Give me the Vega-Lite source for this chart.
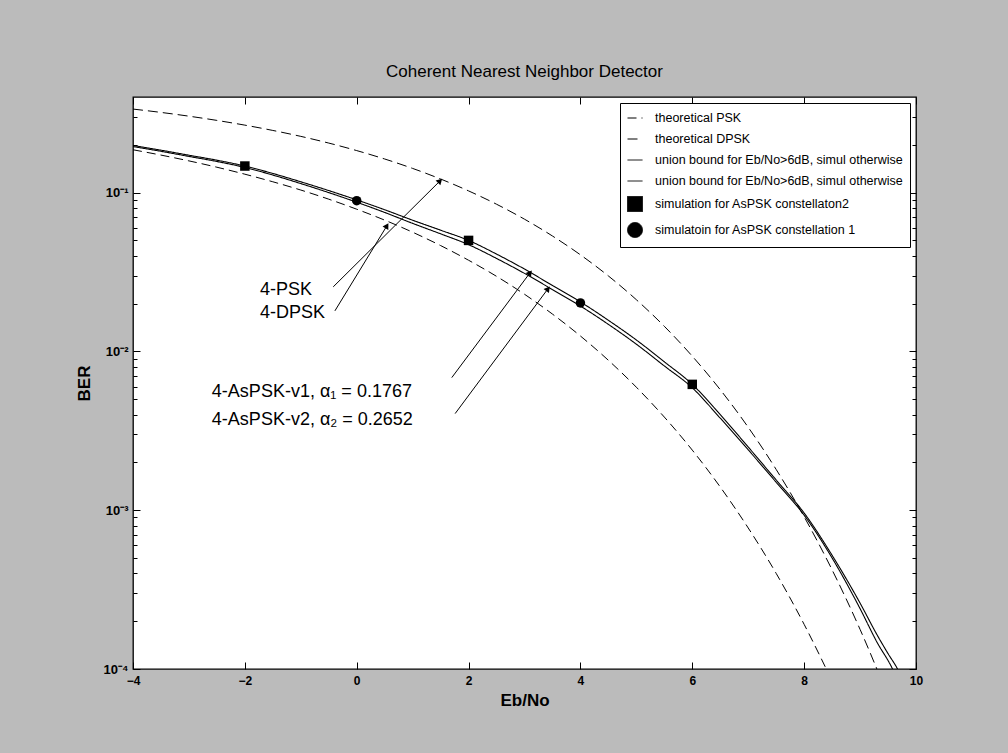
{
  "$schema": "https://vega.github.io/schema/vega-lite/v6.json",
  "width": 783,
  "height": 572,
  "autosize": {"type": "none"},
  "padding": {"left": 133, "top": 97, "right": 92, "bottom": 84},
  "background": "#bbbbbb",
  "title": {"text": "Coherent Nearest Neighbor Detector", "font": "Liberation Sans", "fontSize": 17, "fontWeight": "normal", "color": "black", "offset": 16},
  "config": {
    "view": {"fill": "white", "stroke": "black", "strokeWidth": 1.3},
    "legend": {"orient": "top-right", "offset": 6, "strokeColor": "black", "fillColor": "white", "padding": 7, "labelFont": "Liberation Sans", "labelFontSize": 12.5, "labelColor": "black", "labelLimit": 320, "labelOffset": 12, "symbolStrokeColor": "black", "symbolFillColor": "black", "symbolStrokeWidth": 1, "symbolSize": 225, "rowPadding": 6, "titleFontSize": 0}
  },
  "datasets": {
    "curves": [
      {"series": "psk", "ebno": -4, "ber": 0.1861},
      {"series": "psk", "ebno": -3.5, "ber": 0.1723},
      {"series": "psk", "ebno": -3, "ber": 0.1584},
      {"series": "psk", "ebno": -2.5, "ber": 0.1445},
      {"series": "psk", "ebno": -2, "ber": 0.1306},
      {"series": "psk", "ebno": -1.5, "ber": 0.117},
      {"series": "psk", "ebno": -1, "ber": 0.1038},
      {"series": "psk", "ebno": -0.5, "ber": 0.0909},
      {"series": "psk", "ebno": 0, "ber": 0.0786},
      {"series": "psk", "ebno": 0.5, "ber": 0.0671},
      {"series": "psk", "ebno": 1, "ber": 0.0563},
      {"series": "psk", "ebno": 1.5, "ber": 0.0464},
      {"series": "psk", "ebno": 2, "ber": 0.0375},
      {"series": "psk", "ebno": 2.5, "ber": 0.0297},
      {"series": "psk", "ebno": 3, "ber": 0.0229},
      {"series": "psk", "ebno": 3.5, "ber": 0.01718},
      {"series": "psk", "ebno": 4, "ber": 0.0125},
      {"series": "psk", "ebno": 4.5, "ber": 0.00879},
      {"series": "psk", "ebno": 5, "ber": 0.00595},
      {"series": "psk", "ebno": 5.5, "ber": 0.00386},
      {"series": "psk", "ebno": 6, "ber": 0.00239},
      {"series": "psk", "ebno": 6.5, "ber": 0.0014},
      {"series": "psk", "ebno": 7, "ber": 0.000773},
      {"series": "psk", "ebno": 7.5, "ber": 0.0004},
      {"series": "psk", "ebno": 8, "ber": 0.000191},
      {"series": "psk", "ebno": 8.5, "ber": 0.0000839},
      {"series": "dpsk", "ebno": -4, "ber": 0.3358},
      {"series": "dpsk", "ebno": -3.5, "ber": 0.3199},
      {"series": "dpsk", "ebno": -3, "ber": 0.3029},
      {"series": "dpsk", "ebno": -2.5, "ber": 0.2849},
      {"series": "dpsk", "ebno": -2, "ber": 0.266},
      {"series": "dpsk", "ebno": -1.5, "ber": 0.2463},
      {"series": "dpsk", "ebno": -1, "ber": 0.226},
      {"series": "dpsk", "ebno": -0.5, "ber": 0.2051},
      {"series": "dpsk", "ebno": 0, "ber": 0.1839},
      {"series": "dpsk", "ebno": 0.5, "ber": 0.1628},
      {"series": "dpsk", "ebno": 1, "ber": 0.142},
      {"series": "dpsk", "ebno": 1.5, "ber": 0.1218},
      {"series": "dpsk", "ebno": 2, "ber": 0.1025},
      {"series": "dpsk", "ebno": 2.5, "ber": 0.0845},
      {"series": "dpsk", "ebno": 3, "ber": 0.068},
      {"series": "dpsk", "ebno": 3.5, "ber": 0.0533},
      {"series": "dpsk", "ebno": 4, "ber": 0.04057},
      {"series": "dpsk", "ebno": 4.5, "ber": 0.02986},
      {"series": "dpsk", "ebno": 5, "ber": 0.02116},
      {"series": "dpsk", "ebno": 5.5, "ber": 0.01439},
      {"series": "dpsk", "ebno": 6, "ber": 0.00933},
      {"series": "dpsk", "ebno": 6.5, "ber": 0.00574},
      {"series": "dpsk", "ebno": 7, "ber": 0.003328},
      {"series": "dpsk", "ebno": 7.5, "ber": 0.001805},
      {"series": "dpsk", "ebno": 8, "ber": 0.000909},
      {"series": "dpsk", "ebno": 8.5, "ber": 0.000421},
      {"series": "dpsk", "ebno": 9, "ber": 0.0001776},
      {"series": "dpsk", "ebno": 9.5, "ber": 0.0000673},
      {"series": "ub1", "ebno": -4, "ber": 0.195},
      {"series": "ub1", "ebno": -3.5, "ber": 0.182},
      {"series": "ub1", "ebno": -3, "ber": 0.169},
      {"series": "ub1", "ebno": -2.5, "ber": 0.157},
      {"series": "ub1", "ebno": -2, "ber": 0.144},
      {"series": "ub1", "ebno": -1.5, "ber": 0.129},
      {"series": "ub1", "ebno": -1, "ber": 0.114},
      {"series": "ub1", "ebno": -0.5, "ber": 0.1},
      {"series": "ub1", "ebno": 0, "ber": 0.087},
      {"series": "ub1", "ebno": 0.5, "ber": 0.075},
      {"series": "ub1", "ebno": 1, "ber": 0.064},
      {"series": "ub1", "ebno": 1.5, "ber": 0.055},
      {"series": "ub1", "ebno": 2, "ber": 0.047},
      {"series": "ub1", "ebno": 2.5, "ber": 0.0385},
      {"series": "ub1", "ebno": 3, "ber": 0.031},
      {"series": "ub1", "ebno": 3.5, "ber": 0.0245},
      {"series": "ub1", "ebno": 4, "ber": 0.0193},
      {"series": "ub1", "ebno": 4.5, "ber": 0.0148},
      {"series": "ub1", "ebno": 5, "ber": 0.0111},
      {"series": "ub1", "ebno": 5.5, "ber": 0.0081},
      {"series": "ub1", "ebno": 6, "ber": 0.0059},
      {"series": "ub1", "ebno": 6.5, "ber": 0.0038},
      {"series": "ub1", "ebno": 7, "ber": 0.0024},
      {"series": "ub1", "ebno": 7.5, "ber": 0.0015},
      {"series": "ub1", "ebno": 8, "ber": 0.00093},
      {"series": "ub1", "ebno": 8.5, "ber": 0.0005},
      {"series": "ub1", "ebno": 9, "ber": 0.00024},
      {"series": "ub1", "ebno": 9.3, "ber": 0.000148},
      {"series": "ub1", "ebno": 9.58, "ber": 0.0001},
      {"series": "ub1", "ebno": 9.7, "ber": 0.00008},
      {"series": "ub2", "ebno": -4, "ber": 0.198},
      {"series": "ub2", "ebno": -3.5, "ber": 0.185},
      {"series": "ub2", "ebno": -3, "ber": 0.172},
      {"series": "ub2", "ebno": -2.5, "ber": 0.16},
      {"series": "ub2", "ebno": -2, "ber": 0.147},
      {"series": "ub2", "ebno": -1.5, "ber": 0.132},
      {"series": "ub2", "ebno": -1, "ber": 0.117},
      {"series": "ub2", "ebno": -0.5, "ber": 0.103},
      {"series": "ub2", "ebno": 0, "ber": 0.09},
      {"series": "ub2", "ebno": 0.5, "ber": 0.078},
      {"series": "ub2", "ebno": 1, "ber": 0.067},
      {"series": "ub2", "ebno": 1.5, "ber": 0.058},
      {"series": "ub2", "ebno": 2, "ber": 0.05},
      {"series": "ub2", "ebno": 2.5, "ber": 0.041},
      {"series": "ub2", "ebno": 3, "ber": 0.033},
      {"series": "ub2", "ebno": 3.5, "ber": 0.026},
      {"series": "ub2", "ebno": 4, "ber": 0.0205},
      {"series": "ub2", "ebno": 4.5, "ber": 0.0157},
      {"series": "ub2", "ebno": 5, "ber": 0.0118},
      {"series": "ub2", "ebno": 5.5, "ber": 0.0086},
      {"series": "ub2", "ebno": 6, "ber": 0.0062},
      {"series": "ub2", "ebno": 6.5, "ber": 0.004},
      {"series": "ub2", "ebno": 7, "ber": 0.0025},
      {"series": "ub2", "ebno": 7.5, "ber": 0.00155},
      {"series": "ub2", "ebno": 8, "ber": 0.00096},
      {"series": "ub2", "ebno": 8.5, "ber": 0.00052},
      {"series": "ub2", "ebno": 9, "ber": 0.00026},
      {"series": "ub2", "ebno": 9.3, "ber": 0.000165},
      {"series": "ub2", "ebno": 9.5, "ber": 0.000125},
      {"series": "ub2", "ebno": 9.67, "ber": 0.0001},
      {"series": "ub2", "ebno": 9.8, "ber": 0.00008}
    ],
    "sims": [
      {"series": "sim2", "ebno": -2, "ber": 0.147},
      {"series": "sim2", "ebno": 2, "ber": 0.05},
      {"series": "sim2", "ebno": 6, "ber": 0.0062},
      {"series": "sim1", "ebno": 0, "ber": 0.089},
      {"series": "sim1", "ebno": 4, "ber": 0.0202}
    ],
    "arrows": [
      {"id": "a1", "x": -0.42, "y": 0.0255, "x2": 1.49, "y2": 0.1185},
      {"id": "a2", "x": -0.39, "y": 0.018, "x2": 0.54, "y2": 0.0618},
      {"id": "a3", "x": 1.7, "y": 0.00684, "x2": 3.1, "y2": 0.0313},
      {"id": "a4", "x": 1.76, "y": 0.00406, "x2": 3.42, "y2": 0.0248}
    ],
    "labels": [
      {"label": "4-PSK", "x": -1.73, "y": 0.0244},
      {"label": "4-DPSK", "x": -1.73, "y": 0.0175},
      {"label": "4-AsPSK-v1, α₁ = 0.1767", "x": -2.59, "y": 0.00558},
      {"label": "4-AsPSK-v2, α₂ = 0.2652", "x": -2.59, "y": 0.00372}
    ]
  },
  "resolve": {"axis": {"x": "independent", "y": "independent"}},
  "layer": [
    {
      "data": {"name": "curves"},
      "transform": [{"filter": "datum.series == 'psk' || datum.series == 'dpsk'"}],
      "mark": {"type": "line", "clip": true, "color": "black", "strokeWidth": 1, "interpolate": "monotone"},
      "encoding": {
        "x": {"field": "ebno", "type": "quantitative", "scale": {"domain": [-4, 10], "nice": false, "zero": false},
          "axis": {"orient": "bottom", "values": [-4, -2, 0, 2, 4, 6, 8, 10], "ticks": false, "domain": false, "grid": false, "labelPadding": 6, "labelFont": "Liberation Sans", "labelFontSize": 12, "labelFontWeight": "bold", "labelColor": "black", "labelFlush": false, "title": "Eb/No", "titleFont": "Liberation Sans", "titleFontSize": 17, "titleFontWeight": "bold", "titleColor": "black", "titlePadding": 6}},
        "y": {"field": "ber", "type": "quantitative", "scale": {"type": "log", "domain": [0.0001, 0.4], "nice": false},
          "axis": {"orient": "left", "values": [0.0001, 0.001, 0.01, 0.1], "ticks": false, "domain": false, "grid": false, "labelPadding": 5, "labelFont": "Liberation Sans", "labelFontSize": 13, "labelFontWeight": "bold", "labelColor": "black", "labelExpr": "datum.value > 0.05 ? '10⁻¹' : datum.value > 0.005 ? '10⁻²' : datum.value > 0.0005 ? '10⁻³' : '10⁻⁴'", "title": "BER", "titleFont": "Liberation Sans", "titleFontSize": 17, "titleFontWeight": "bold", "titleColor": "black", "titlePadding": 10}},
        "detail": {"field": "series"},
        "strokeDash": {"field": "series", "type": "nominal", "scale": {"domain": ["psk", "dpsk", "ub1", "ub2", "sim2", "sim1"], "range": [[9, 5], [10, 5], [1, 0], [1, 0], [1, 0], [1, 0]]},
          "legend": {"title": null, "labelExpr": "datum.value == 'psk' ? 'theoretical PSK' : datum.value == 'dpsk' ? 'theoretical DPSK' : (datum.value == 'ub1' || datum.value == 'ub2') ? 'union bound for Eb/No>6dB, simul otherwise' : datum.value == 'sim2' ? 'simulation for AsPSK constellaton2' : 'simulatoin for AsPSK constellation 1'",
            "encode": {"symbols": {"update": {"stroke": {"value": "black"}, "strokeWidth": {"value": 1}}}}}}
      }
    },
    {
      "data": {"name": "curves"},
      "transform": [{"filter": "datum.series == 'ub1' || datum.series == 'ub2'"}],
      "mark": {"type": "line", "clip": true, "color": "black", "strokeWidth": 1.1, "interpolate": "monotone"},
      "encoding": {
        "x": {"field": "ebno", "type": "quantitative", "scale": {"domain": [-4, 10], "nice": false, "zero": false},
          "axis": {"orient": "bottom", "values": [-4, -2, 0, 2, 4, 6, 8, 10], "labels": false, "domain": false, "grid": false, "tickSize": -7, "tickColor": "black", "title": null}},
        "y": {"field": "ber", "type": "quantitative", "scale": {"type": "log", "domain": [0.0001, 0.4], "nice": false},
          "axis": {"orient": "left", "values": [0.0001, 0.001, 0.01, 0.1], "labels": false, "domain": false, "grid": false, "tickSize": -7, "tickColor": "black", "title": null}},
        "detail": {"field": "series"},
        "strokeDash": {"field": "series", "type": "nominal", "scale": {"domain": ["psk", "dpsk", "ub1", "ub2", "sim2", "sim1"], "range": [[9, 5], [10, 5], [1, 0], [1, 0], [1, 0], [1, 0]]}}
      }
    },
    {
      "data": {"name": "sims"},
      "mark": {"type": "point", "filled": true, "color": "black", "opacity": 1, "size": 90},
      "encoding": {
        "x": {"field": "ebno", "type": "quantitative", "scale": {"domain": [-4, 10], "nice": false, "zero": false},
          "axis": {"orient": "top", "values": [-4, -2, 0, 2, 4, 6, 8, 10], "labels": false, "domain": false, "grid": false, "tickSize": -7, "tickColor": "black", "title": null}},
        "y": {"field": "ber", "type": "quantitative", "scale": {"type": "log", "domain": [0.0001, 0.4], "nice": false},
          "axis": {"orient": "right", "values": [0.0001, 0.001, 0.01, 0.1], "labels": false, "domain": false, "grid": false, "tickSize": -7, "tickColor": "black", "title": null}},
        "shape": {"field": "series", "type": "nominal", "scale": {"domain": ["psk", "dpsk", "ub1", "ub2", "sim2", "sim1"], "range": ["stroke", "stroke", "stroke", "stroke", "square", "circle"]},
          "legend": {"title": null, "labelExpr": "datum.value == 'psk' ? 'theoretical PSK' : datum.value == 'dpsk' ? 'theoretical DPSK' : (datum.value == 'ub1' || datum.value == 'ub2') ? 'union bound for Eb/No>6dB, simul otherwise' : datum.value == 'sim2' ? 'simulation for AsPSK constellaton2' : 'simulatoin for AsPSK constellation 1'",
            "encode": {"symbols": {"update": {"stroke": {"value": "black"}, "strokeWidth": {"value": 1}}}}}}
      }
    },
    {
      "data": {"name": "arrows"},
      "mark": {"type": "rule", "color": "black", "strokeWidth": 1},
      "encoding": {
        "x": {"field": "x", "type": "quantitative", "scale": {"domain": [-4, 10], "nice": false, "zero": false}, "axis": null},
        "y": {"field": "y", "type": "quantitative", "scale": {"type": "log", "domain": [0.0001, 0.4], "nice": false},
          "axis": {"orient": "left", "values": [0.0002, 0.0003, 0.0004, 0.0005, 0.0006, 0.0007, 0.0008, 0.0009, 0.002, 0.003, 0.004, 0.005, 0.006, 0.007, 0.008, 0.009, 0.02, 0.03, 0.04, 0.05, 0.06, 0.07, 0.08, 0.09, 0.2, 0.3], "labels": false, "domain": false, "grid": false, "tickSize": -4, "tickColor": "black", "title": null}},
        "x2": {"field": "x2"},
        "y2": {"field": "y2"}
      }
    },
    {
      "data": {"name": "labels"},
      "mark": {"type": "text", "align": "left", "baseline": "middle", "font": "Liberation Sans", "fontSize": 18, "color": "black"},
      "encoding": {
        "x": {"field": "x", "type": "quantitative", "scale": {"domain": [-4, 10], "nice": false, "zero": false}, "axis": null},
        "y": {"field": "y", "type": "quantitative", "scale": {"type": "log", "domain": [0.0001, 0.4], "nice": false},
          "axis": {"orient": "right", "values": [0.0002, 0.0003, 0.0004, 0.0005, 0.0006, 0.0007, 0.0008, 0.0009, 0.002, 0.003, 0.004, 0.005, 0.006, 0.007, 0.008, 0.009, 0.02, 0.03, 0.04, 0.05, 0.06, 0.07, 0.08, 0.09, 0.2, 0.3], "labels": false, "domain": false, "grid": false, "tickSize": -4, "tickColor": "black", "title": null}},
        "text": {"field": "label"}
      }
    },
    {
      "data": {"name": "arrows"},
      "transform": [{"filter": "datum.id == 'a1'"}],
      "mark": {"type": "point", "shape": "triangle-up", "filled": true, "color": "black", "opacity": 1, "size": 45, "angle": 45},
      "encoding": {
        "x": {"field": "x2", "type": "quantitative", "scale": {"domain": [-4, 10], "nice": false, "zero": false}, "axis": null},
        "y": {"field": "y2", "type": "quantitative", "scale": {"type": "log", "domain": [0.0001, 0.4], "nice": false}, "axis": null}
      }
    },
    {
      "data": {"name": "arrows"},
      "transform": [{"filter": "datum.id == 'a2'"}],
      "mark": {"type": "point", "shape": "triangle-up", "filled": true, "color": "black", "opacity": 1, "size": 45, "angle": 31},
      "encoding": {
        "x": {"field": "x2", "type": "quantitative", "scale": {"domain": [-4, 10], "nice": false, "zero": false}, "axis": null},
        "y": {"field": "y2", "type": "quantitative", "scale": {"type": "log", "domain": [0.0001, 0.4], "nice": false}, "axis": null}
      }
    },
    {
      "data": {"name": "arrows"},
      "transform": [{"filter": "datum.id == 'a3' || datum.id == 'a4'"}],
      "mark": {"type": "point", "shape": "triangle-up", "filled": true, "color": "black", "opacity": 1, "size": 45, "angle": 37},
      "encoding": {
        "x": {"field": "x2", "type": "quantitative", "scale": {"domain": [-4, 10], "nice": false, "zero": false}, "axis": null},
        "y": {"field": "y2", "type": "quantitative", "scale": {"type": "log", "domain": [0.0001, 0.4], "nice": false}, "axis": null}
      }
    }
  ]
}
